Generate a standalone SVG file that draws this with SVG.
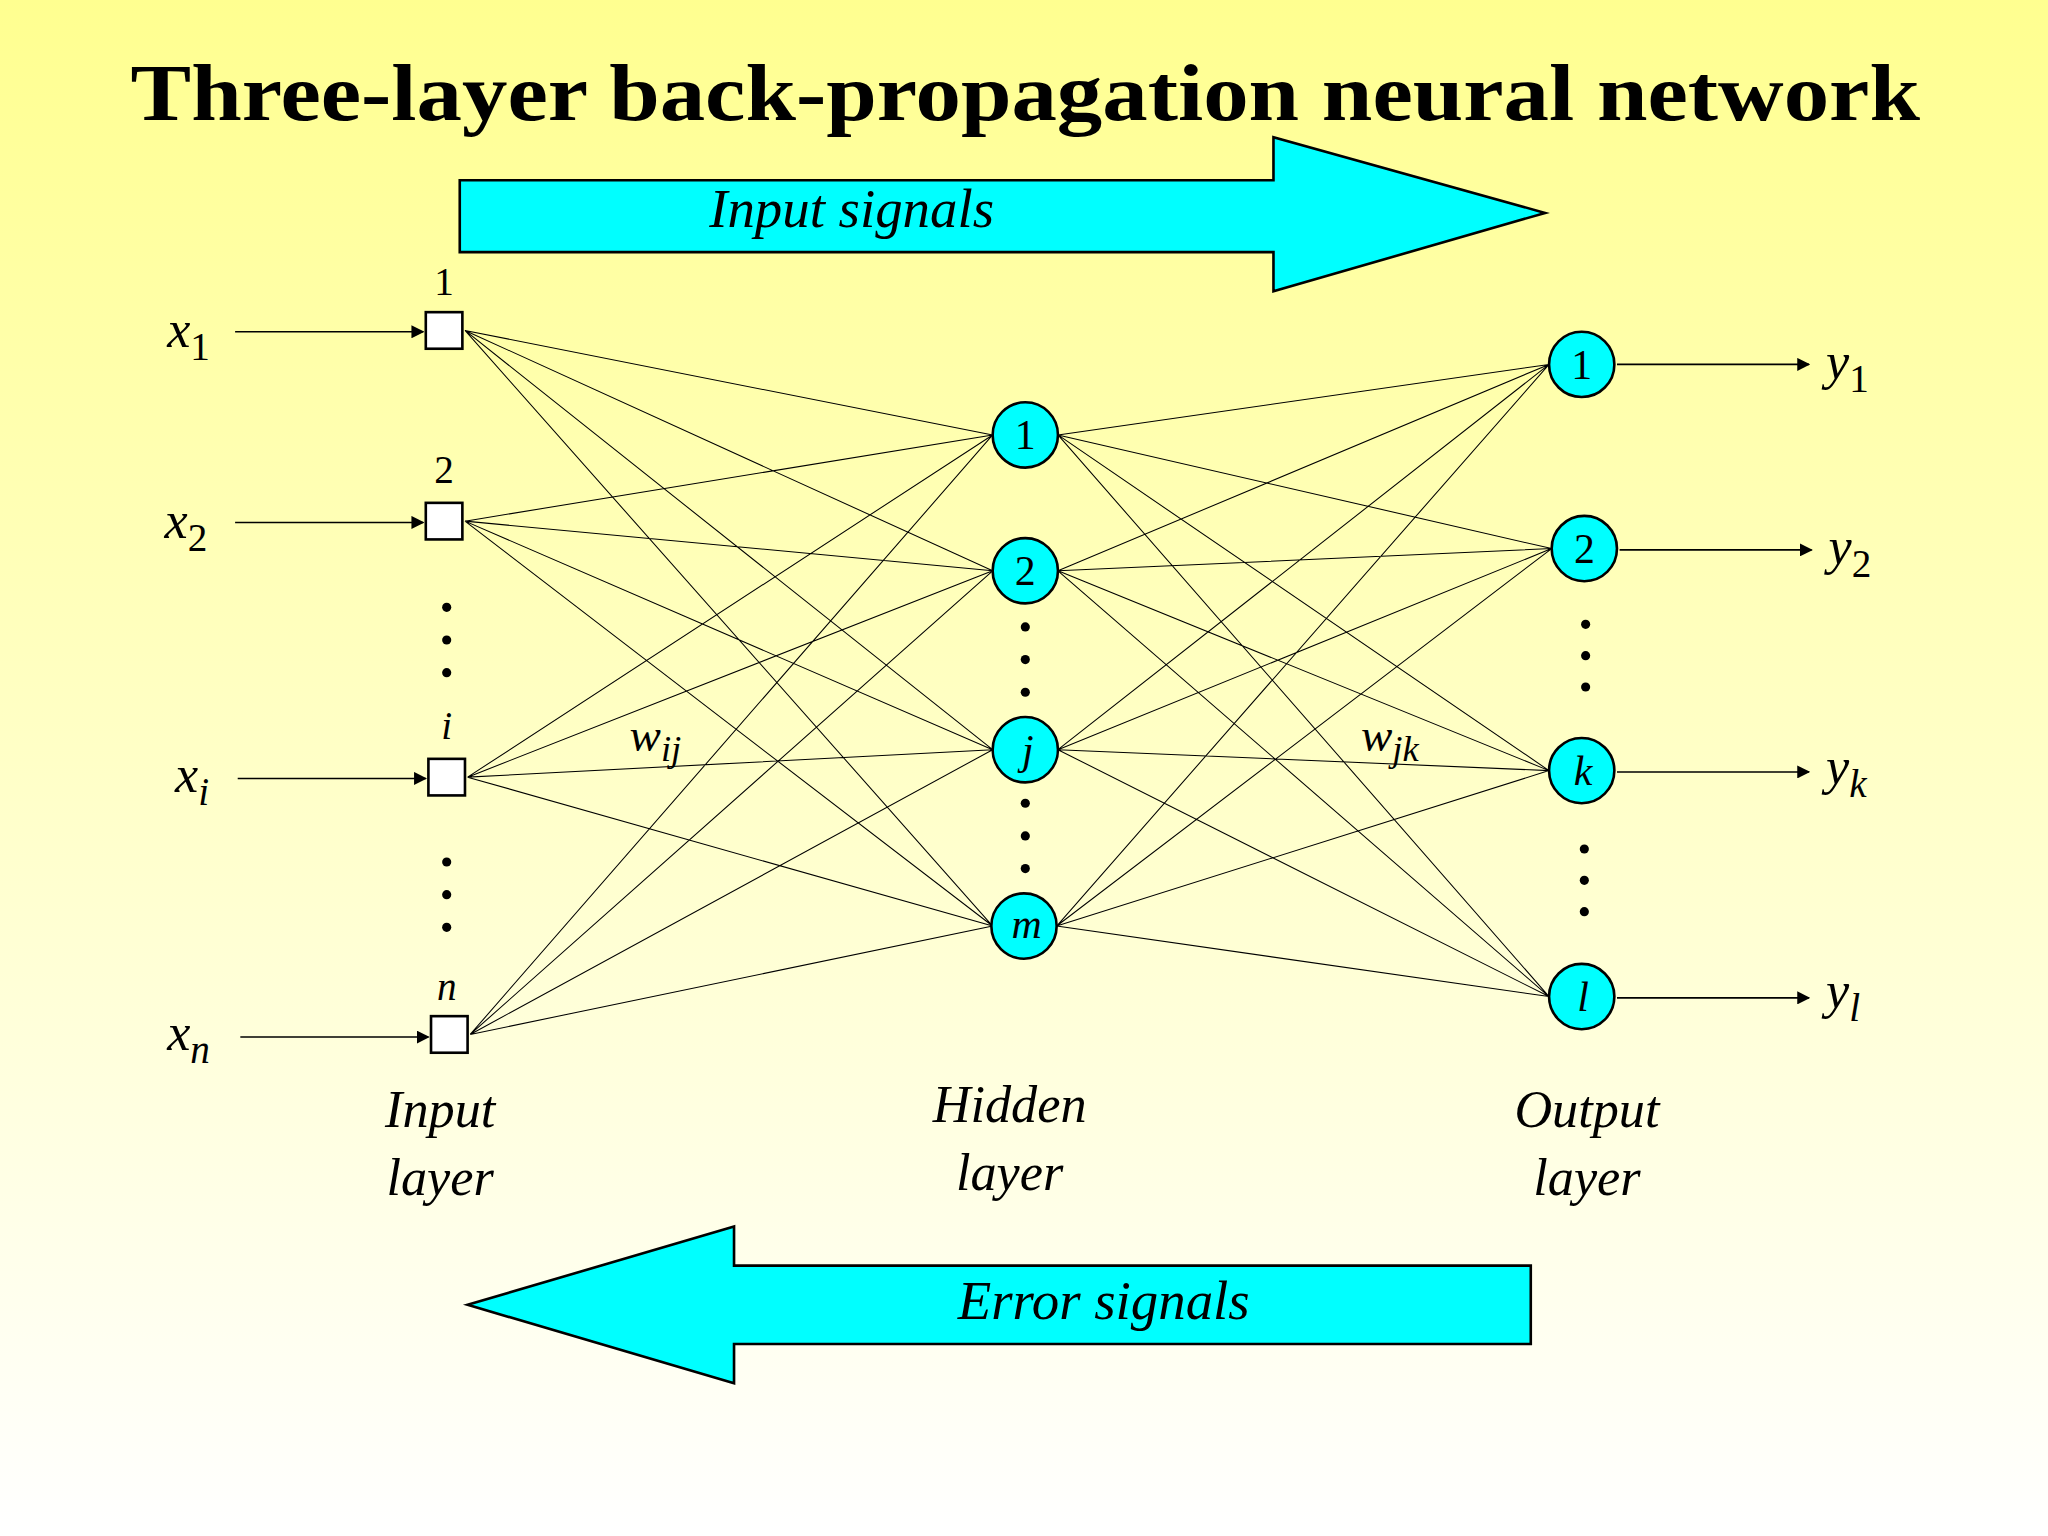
<svg xmlns="http://www.w3.org/2000/svg" width="2048" height="1536" viewBox="0 0 2048 1536">
<defs>
<linearGradient id="bg" x1="0" y1="0" x2="0" y2="1"><stop offset="0" stop-color="#ffff90"/><stop offset="1" stop-color="#ffffff"/></linearGradient>
<marker id="ah" markerWidth="10" markerHeight="10" refX="9" refY="5" orient="auto" markerUnits="userSpaceOnUse"><path d="M0,0 L10,5 L0,10 Z" fill="#000"/></marker>
<style>
.t{font-family:"Times New Roman","Liberation Serif",serif;font-style:italic;fill:#000}
.big{fill:#00ffff;stroke:#000;stroke-width:2}
.n{fill:#00ffff;stroke:#000;stroke-width:2}
.sq{fill:#fff;stroke:#000;stroke-width:2}
.w{stroke:#000;stroke-width:0.8;fill:none}
.a{stroke:#000;stroke-width:1.2;marker-end:url(#ah)}
</style>
</defs>
<rect width="2048" height="1536" fill="url(#bg)"/>
<g transform="scale(1.30612)">
<text x="785" y="92" text-anchor="middle" font-family="Liberation Serif,serif" font-weight="bold" font-size="62" fill="#000" textLength="1370" lengthAdjust="spacingAndGlyphs">Three-layer back-propagation neural network</text>
<g id="input-signals"><polygon class="big" points="352,138 975,138 975,105 1183,163 975,223 975,193 352,193"/><text class="t" x="652" y="174" text-anchor="middle" font-size="42">Input signals</text></g>
<g id="error-signals"><polygon class="big" points="1172,969 562,969 562,939 358,999 562,1059 562,1029 1172,1029"/><text class="t" x="845" y="1010" text-anchor="middle" font-size="42">Error signals</text></g>
<g id="connectors">
<g class="w">
<path d="M356,253L760,333M356,253L760,437M356,253L760,574M356,253L760,709
M356,399L760,333M356,399L760,437M356,399L760,574M356,399L760,709
M358,595L760,333M358,595L760,437M358,595L760,574M358,595L760,709
M360,792L760,333M360,792L760,437M360,792L760,574M360,792L760,709
M810,333L1186,279M810,333L1188,420M810,333L1186,590M810,333L1186,763
M810,437L1186,279M810,437L1188,420M810,437L1186,590M810,437L1186,763
M810,574L1186,279M810,574L1188,420M810,574L1186,590M810,574L1186,763
M809,709L1186,279M809,709L1188,420M809,709L1186,590M809,709L1186,763"/>
</g>
<line class="a" x1="180" y1="254" x2="324" y2="254"/>
<line class="a" x1="180" y1="400" x2="324" y2="400"/>
<line class="a" x1="182" y1="596" x2="326" y2="596"/>
<line class="a" x1="184" y1="794" x2="328" y2="794"/>
<line class="a" x1="1238" y1="279" x2="1385" y2="279"/>
<line class="a" x1="1240" y1="421" x2="1387" y2="421"/>
<line class="a" x1="1238" y1="591" x2="1385" y2="591"/>
<line class="a" x1="1238" y1="764" x2="1385" y2="764"/>
</g>
<g id="input-nodes" font-family="Liberation Serif,serif" font-size="30">
<g id="in1"><rect class="sq" x="326" y="239" width="28" height="28"/><text x="340" y="226" text-anchor="middle">1</text><text class="t" x="128" y="266" font-size="40">x<tspan font-size="30" dy="10" font-style="normal">1</tspan></text></g>
<g id="in2"><rect class="sq" x="326" y="385" width="28" height="28"/><text x="340" y="370" text-anchor="middle">2</text><text class="t" x="126" y="412" font-size="40">x<tspan font-size="30" dy="10" font-style="normal">2</tspan></text></g>
<g id="ini"><rect class="sq" x="328" y="581" width="28" height="28"/><text class="t" x="342" y="566" text-anchor="middle">i</text><text class="t" x="134" y="606" font-size="40">x<tspan font-size="30" dy="10">i</tspan></text></g>
<g id="inn"><rect class="sq" x="330" y="778" width="28" height="28"/><text class="t" x="342" y="766" text-anchor="middle">n</text><text class="t" x="128" y="804" font-size="40">x<tspan font-size="30" dy="10">n</tspan></text></g>
</g>
<g id="hidden-nodes" font-family="Liberation Serif,serif" font-size="32" text-anchor="middle">
<g id="h1"><circle class="n" cx="785" cy="333" r="25"/><text x="785" y="344">1</text></g>
<g id="h2"><circle class="n" cx="785" cy="437" r="25"/><text x="785" y="448">2</text></g>
<g id="hj"><circle class="n" cx="785" cy="574" r="25"/><text class="t" x="787" y="585">j</text></g>
<g id="hm"><circle class="n" cx="784" cy="709" r="25"/><text class="t" x="786" y="718">m</text></g>
</g>
<g id="output-nodes" font-family="Liberation Serif,serif" font-size="32" text-anchor="middle">
<g id="o1"><circle class="n" cx="1211" cy="279" r="25"/><text x="1211" y="290">1</text></g>
<g id="o2"><circle class="n" cx="1213" cy="420" r="25"/><text x="1213" y="431">2</text></g>
<g id="ok"><circle class="n" cx="1211" cy="590" r="25"/><text class="t" x="1212" y="601">k</text></g>
<g id="ol"><circle class="n" cx="1211" cy="763" r="25"/><text class="t" x="1212" y="774">l</text></g>
</g>
<g id="outputs" class="t" font-size="40">
<text x="1398" y="290">y<tspan font-size="30" dy="10" font-style="normal">1</tspan></text>
<text x="1400" y="432">y<tspan font-size="30" dy="10" font-style="normal">2</tspan></text>
<text x="1398" y="600">y<tspan font-size="30" dy="10">k</tspan></text>
<text x="1398" y="772">y<tspan font-size="30" dy="10">l</tspan></text>
</g>
<g id="dots" fill="#000">
<circle cx="342" cy="465" r="3.5"/><circle cx="342" cy="490" r="3.5"/><circle cx="342" cy="515" r="3.5"/>
<circle cx="342" cy="660" r="3.5"/><circle cx="342" cy="685" r="3.5"/><circle cx="342" cy="710" r="3.5"/>
<circle cx="785" cy="480" r="3.5"/><circle cx="785" cy="505" r="3.5"/><circle cx="785" cy="530" r="3.5"/>
<circle cx="785" cy="615" r="3.5"/><circle cx="785" cy="640" r="3.5"/><circle cx="785" cy="665" r="3.5"/>
<circle cx="1214" cy="478" r="3.5"/><circle cx="1214" cy="502" r="3.5"/><circle cx="1214" cy="526" r="3.5"/>
<circle cx="1213" cy="650" r="3.5"/><circle cx="1213" cy="674" r="3.5"/><circle cx="1213" cy="698" r="3.5"/>
</g>
<g id="weights" class="t" font-size="36">
<text x="482" y="575">w<tspan font-size="28" dy="8">ij</tspan></text>
<text x="1042" y="575">w<tspan font-size="28" dy="8">jk</tspan></text>
</g>
<g id="layer-labels" class="t" font-size="40" text-anchor="middle">
<text x="337" y="863">Input</text><text x="337" y="915">layer</text>
<text x="773" y="859">Hidden</text><text x="773" y="911">layer</text>
<text x="1215" y="863">Output</text><text x="1215" y="915">layer</text>
</g>
</g>
</svg>
